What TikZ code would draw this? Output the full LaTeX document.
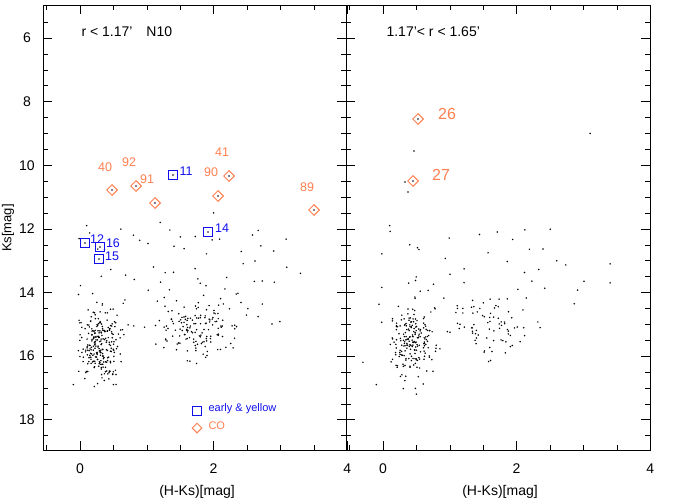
\documentclass[tikz,border=0pt]{standalone}
\usepackage{fontspec}
\setmainfont{Liberation Sans}
\usetikzlibrary{shapes.geometric}
\definecolor{co}{HTML}{FF7F50}
\definecolor{ey}{HTML}{1010F0}
\begin{document}
\begin{tikzpicture}[x=1pt,y=-1pt,
  sqm/.style={draw=ey,line width=1pt,minimum size=9pt,inner sep=0pt},
  dmm/.style={draw=co,line width=1pt,diamond,minimum size=11pt,inner sep=0pt,shape aspect=1},
  lbl/.style={font=\fontsize{12.5}{12.5}\selectfont},
  tl/.style={font=\fontsize{14}{14}\selectfont}]
\useasboundingbox (0,0) rectangle (700,500);
% frames
\draw[line width=0.9pt] (43,5) rectangle (346,450);
\draw[line width=0.9pt] (346,5) rectangle (650,450);
% ticks
\foreach \o in {80,383}{
  \foreach \c in {-0.5,0,...,4}{
    \pgfmathsetmacro\px{\o+66.8*\c}
    \pgfmathsetmacro\len{mod(\c*2,4)==0?9:5}
    \ifdim\px pt>44pt \ifdim\px pt<649pt
      \draw (\px,450) -- ++(0,-\len);
      \draw (\px,5) -- ++(0,\len);
    \fi\fi
  }
}
\foreach \o/\e in {43/346,346/650}{
  \foreach \m in {5.5,6,...,18.5}{
    \pgfmathsetmacro\py{38+31.8*(\m-6)}
    \pgfmathsetmacro\len{mod(\m*2,4)==0?9:5}
    \draw (\o,\py) -- ++(\len,0);
    \draw (\e,\py) -- ++(-\len,0);
  }
}
\foreach \m in {6,8,...,18}{
  \pgfmathsetmacro\py{38+31.8*(\m-6)}
  \node[tl] (yl\m) at (27,\py) {\m};
}
\foreach \c in {0,2,4}{
  \pgfmathsetmacro\pa{80+66.8*\c}\pgfmathsetmacro\pb{383+66.8*\c}
  \node[tl] (xa\c) at (\pa,469) {\c};
  \node[tl] (xb\c) at (\pb,469) {\c};
}
\node[tl] (xt1) at (197,492) {(H-Ks)[mag]};
\node[tl] (xt2) at (500,492) {(H-Ks)[mag]};
\node[font=\fontsize{13}{13}\selectfont,rotate=90] (yt) at (8,228) {Ks[mag]};
\node[tl,anchor=west] (t1) at (78,32) {r < 1.17'\quad N10};
\node[tl,anchor=west] (t2) at (383,32) {1.17'< r < 1.65'};
% scatter
\pgfmathsetseed{7}
\foreach \o/\na/\nb/\nc/\ca/\cb in {80/240/140/70/0.3/1.75,383/200/75/45/0.45/1.5}{
  \foreach \i in {1,...,\na}{
    \pgfmathsetmacro\px{\o+66.8*(\ca+0.15*(rand+rand+rand))}
    \pgfmathsetmacro\py{38+31.8*(15.6+0.55*(rand+rand+rand)-6)}
    \fill (\px,\py) circle (0.85);
  }
  \foreach \i in {1,...,\nb}{
    \pgfmathsetmacro\px{\o+66.8*(\cb+0.3*(rand+rand+rand))}
    \pgfmathsetmacro\py{38+31.8*(15.1+0.45*(rand+rand+rand)-6)}
    \fill (\px,\py) circle (0.85);
  }
  \foreach \i in {1,...,\nc}{
    \pgfmathsetmacro\px{\o+66.8*(1.5+1.6*rand)}
    \pgfmathsetmacro\py{38+31.8*(13.6+1.6*rand-6)}
    \fill (\px,\py) circle (0.85);
  }
}
\foreach \x/\y in {-0.3/16.2,-0.1/16.9,0.5/17.2,0.1/11.9,0.4/12.5,3.1/9.0,3.4/13.1,3.4/13.7}{
  \pgfmathsetmacro\px{383+66.8*\x}\pgfmathsetmacro\py{38+31.8*(\y-6)}
  \fill (\px,\py) circle (0.85);
}
\foreach \x/\y in {414/151,405/182,408/192}{\fill (\x,\y) circle (0.85);}
\foreach \x/\y in {-0.1/16.9,0.5/16.9,0.1/11.9,0.8/12.2,1.2/11.8,2.9/12.7,3.3/13.4,2.0/11.5,1.1/13.2}{
  \pgfmathsetmacro\px{80+66.8*\x}\pgfmathsetmacro\py{38+31.8*(\y-6)}
  \fill (\px,\py) circle (0.85);
}
% markers
\foreach \n/\x/\y/\lx/\ly in {11/173/175/186/171,14/208/232/222/228,12/85/243/97/239,16/100/247/113/243,15/99/259/112/256}{
  \node[sqm] (s\n) at (\x,\y) {}; \fill (\x,\y) circle (0.9);
  \node[lbl,text=ey] (ls\n) at (\lx,\ly) {\n};
}
\foreach \n/\x/\y/\lx/\ly in {40/112/190/105/167,92/136/186/129/162,91/155/203/147/179,90/218/196/211/172,41/229/176/222/152,89/314/210/307/187}{
  \node[dmm] (d\n) at (\x,\y) {}; \fill (\x,\y) circle (0.9);
  \node[lbl,text=co] (ld\n) at (\lx,\ly) {\n};
}
\foreach \n/\x/\y/\lx/\ly in {26/418/119/447/114,27/413/181/441/175}{
  \node[dmm] (d\n) at (\x,\y) {}; \fill (\x,\y) circle (0.9);
  \node[text=co,font=\fontsize{16}{16}\selectfont] (ld\n) at (\lx,\ly) {\n};
}
% legend
\node[sqm] (lgs) at (197,411) {};
\node[anchor=west,text=ey,font=\fontsize{11}{11}\selectfont] (lgt1) at (205,409) {early \& yellow};
\node[dmm,minimum size=10pt] (lgd) at (197,428) {};
\node[anchor=west,text=co,font=\fontsize{11}{11}\selectfont] (lgt2) at (205,426) {CO};
\end{tikzpicture}
\end{document}
